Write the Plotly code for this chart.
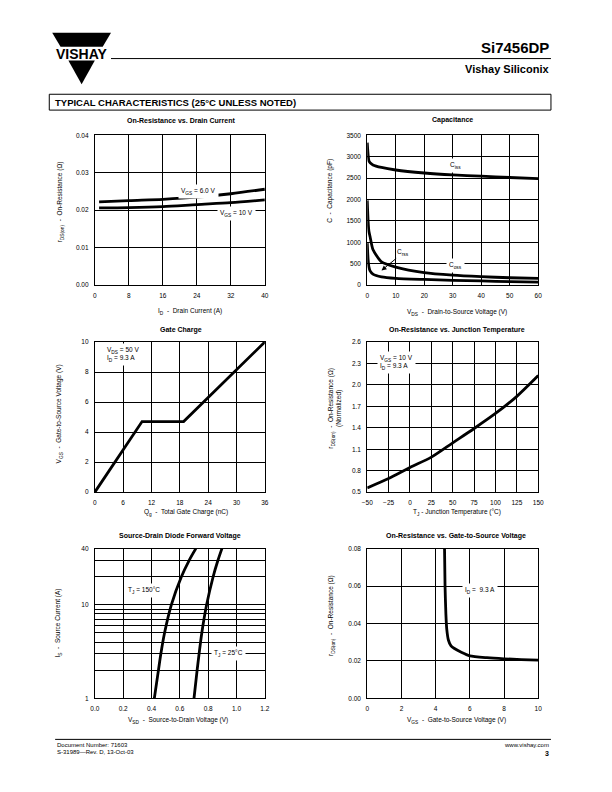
import plotly.graph_objects as go
import numpy as np

PAGE_W, PAGE_H = 612, 792
OFF = 8  # default body margin of the html page
W, H = PAGE_W - 2 * OFF, PAGE_H - 2 * OFF
FONT = "Liberation Sans, Arial, sans-serif"

# ---------------- data ----------------
# On-resistance vs drain current
id_current = [1, 8, 16, 24, 32, 40]
rds_vgs6 = [0.0222, 0.02256, 0.0229, 0.02347, 0.0244, 0.0256]
rds_vgs10 = [0.0206, 0.0207, 0.02096, 0.0215, 0.0220, 0.02275]

# Capacitance
vds = [0, 0.3, 0.6, 1, 2, 5, 10, 20, 30, 40, 50, 60]
ciss = [3330, 3050, 2900, 2860, 2810, 2750, 2690, 2620, 2575, 2545, 2515, 2490]
coss = [1980, 1500, 1250, 1130, 830, 540, 420, 290, 230, 195, 170, 155]
crss = [980, 600, 420, 330, 255, 190, 155, 130, 110, 95, 80, 70]

# Gate charge
qg = [0, 10, 18.8, 36]
vgs_gc = [0, 4.7, 4.7, 10]

# On-resistance vs junction temperature
tj = [-50, -25, 0, 25, 50, 75, 100, 125, 150]
rnorm = [0.56, 0.69, 0.845, 0.99, 1.19, 1.39, 1.60, 1.84, 2.13]

# Source-drain diode forward voltage
is_current = [1, 2, 3, 5, 10, 20, 30, 40]
vsd_150 = [0.42, 0.449, 0.466, 0.492, 0.54, 0.611, 0.666, 0.713]
vsd_25 = [0.70, 0.722, 0.736, 0.755, 0.789, 0.835, 0.869, 0.897]

# On-resistance vs gate-to-source voltage
vgs_sweep = [4.52, 4.55, 4.6, 4.65, 4.75, 4.9, 5.1, 5.5, 6, 7, 8, 9, 10]
rds_vgs = [0.08, 0.06, 0.045, 0.037, 0.031, 0.028, 0.0266, 0.0246, 0.0227, 0.0217, 0.0211, 0.0207, 0.0204]

diode_major = [1, 10, 40]
diode_minor = [2, 3, 4, 5, 6, 7, 8, 9, 20, 30]


def px(x):
    return (x - OFF) / W


def py(y):
    return 1 - (y - OFF) / H


def sub(s, size=4.8):
    return f'<span style="font-size:{size}px;baseline-shift:-1.6px">{s}</span>'


cols = [(90.5, 264), (368.5, 543)]
rows = [(132.5, 283.5), (341, 492.5), (549.5, 700.5)]

fig = go.Figure()

LW = 2.8


def axstyle(**kw):
    d = dict(showline=True, linecolor="black", linewidth=1, mirror=True,
             showgrid=True, gridcolor="black", gridwidth=1, zeroline=False,
             ticks="", ticklabelstandoff=4,
             tickfont=dict(size=6.5, family=FONT, color="black"), fixedrange=True)
    d.update(kw)
    return d


layout = {}
panels = [(0, 0), (0, 1), (1, 0), (1, 1), (2, 0), (2, 1)]
for i, (r, c) in enumerate(panels):
    n = "" if i == 0 else str(i + 1)
    layout["xaxis" + n] = dict(domain=[px(cols[c][0]), px(cols[c][1])], anchor="y" + n)
    layout["yaxis" + n] = dict(domain=[py(rows[r][1]), py(rows[r][0])], anchor="x" + n)

layout["xaxis"].update(axstyle(range=[0, 40], dtick=8))
layout["yaxis"].update(axstyle(range=[0, 0.04], dtick=0.01, tickformat=".2f"))
layout["xaxis2"].update(axstyle(range=[0, 60], dtick=10))
layout["yaxis2"].update(axstyle(range=[0, 3500], dtick=500))
layout["xaxis3"].update(axstyle(range=[0, 36], dtick=6))
layout["yaxis3"].update(axstyle(range=[0, 10], dtick=2))
layout["xaxis4"].update(axstyle(range=[-50, 150], dtick=25, tick0=-50))
layout["yaxis4"].update(axstyle(range=[0.5, 2.6], dtick=0.3, tick0=0.5, tickformat=".1f"))
layout["xaxis5"].update(axstyle(range=[0, 1.2], dtick=0.2, tickformat=".1f"))
layout["yaxis5"].update(axstyle(type="log", range=[0, np.log10(40)],
                                tickmode="array", tickvals=diode_major,
                                minor=dict(tickmode="array", tickvals=diode_minor, showgrid=True,
                                           gridcolor="black", gridwidth=1, ticks="")))
layout["xaxis6"].update(axstyle(range=[0, 10], dtick=2))
layout["yaxis6"].update(axstyle(range=[0, 0.08], dtick=0.02, tickformat=".2f"))


def line(x, y, ax, shape="spline", smoothing=0.8):
    n = "" if ax == 1 else str(ax)
    fig.add_trace(go.Scatter(x=x, y=y, mode="lines", xaxis="x" + n, yaxis="y" + n,
                             line=dict(color="black", width=LW, shape=shape,
                                       smoothing=smoothing if shape == "spline" else None),
                             showlegend=False, hoverinfo="skip"))


line(id_current, rds_vgs6, 1)
line(id_current, rds_vgs10, 1)
line(vds, ciss, 2, smoothing=0.6)
line(vds, coss, 2, smoothing=0.6)
line(vds, crss, 2, smoothing=0.6)
line(qg, vgs_gc, 3, shape="linear")
line(tj, rnorm, 4)
line(vsd_150, is_current, 5)
line(vsd_25, is_current, 5)
line(vgs_sweep, rds_vgs, 6, smoothing=0.6)

ann = []


def ptxt(x, y, s, size=7, bold=False, xanchor="center", angle=0, color="black"):
    if bold:
        s = "<b>" + s + "</b>"
    ann.append(dict(x=px(x), y=py(y), xref="paper", yref="paper", text=s, showarrow=False,
                    xanchor=xanchor, yanchor="middle", textangle=angle,
                    font=dict(size=size, family=FONT, color=color)))


def dtxt(ax, x, y, s, size=6.5, xanchor="center", align="center", bg="white"):
    n = "" if ax == 1 else str(ax)
    ann.append(dict(x=x, y=y, xref="x" + n, yref="y" + n, text=s, showarrow=False,
                    xanchor=xanchor, yanchor="middle", align=align, bgcolor=bg, borderpad=2,
                    font=dict(size=size, family=FONT, color="black")))


# plot titles
ptxt(178, 117, "On-Resistance vs. Drain Current", size=7, bold=True)
ptxt(456, 117, "Capacitance", size=7, bold=True)
ptxt(178, 329, "Gate Charge", size=7, bold=True)
ptxt(460, 329, "On-Resistance vs. Junction Temperature", size=7, bold=True)
ptxt(177, 537, "Source-Drain Diode Forward Voltage", size=7, bold=True)
ptxt(459, 537, "On-Resistance vs. Gate-to-Source Voltage", size=7, bold=True)

# axis titles
ptxt(188, 310, "I" + sub("D") + "  -  Drain Current (A)", size=6.5)
ptxt(55, 200, "r" + sub("DS(on)") + "  -  On-Resistance (Ω)", size=6.5, angle=-90)
ptxt(460, 311, "V" + sub("DS") + "  -  Drain-to-Source Voltage (V)", size=6.5)
ptxt(331, 188, "C  -  Capacitance (pF)", size=6.5, angle=-90)
ptxt(184, 513, "Q" + sub("g") + "  -  Total Gate Charge (nC)", size=6.5)
ptxt(54, 414, "V" + sub("GS") + "  -  Gate-to-Source Voltage (V)", size=6.5, angle=-90)
ptxt(460, 513, "T" + sub("J") + " - Junction Temperature (°C)", size=6.5)
ptxt(336, 408, "r" + sub("DS(on)") + "  -  On-Resistance (Ω)<br>(Normalized)", size=6.5, angle=-90)
ptxt(175, 723, "V" + sub("SD") + "  -  Source-to-Drain Voltage (V)", size=6.5)
ptxt(53, 625, "I" + sub("S") + "  -  Source Current (A)", size=6.5, angle=-90)
ptxt(460, 723, "V" + sub("GS") + "  -  Gate-to-Source Voltage (V)", size=6.5)
ptxt(332, 617, "r" + sub("DS(on)") + "  -  On-Resistance (Ω)", size=6.5, angle=-90)

# in-plot labels
dtxt(1, 24.3, 0.0249, "V" + sub("GS") + " = 6.0 V")
dtxt(1, 33.3, 0.0190, "V" + sub("GS") + " = 10 V")
dtxt(2, 31, 2790, "C" + sub("iss"))
dtxt(2, 31, 446, "C" + sub("oss"))
ann.append(dict(x=5.0, y=340, xref="x2", yref="y2", ax=22, ay=-18, text="C" + sub("rss"),
                showarrow=True, arrowhead=2, arrowsize=1, arrowwidth=1, arrowcolor="black",
                font=dict(size=6.5, family=FONT, color="black")))
dtxt(3, 2.0, 9.15, "V" + sub("DS") + " = 50 V<br>I" + sub("D") + " = 9.3 A", xanchor="left", align="left")
dtxt(4, -39, 2.32, "V" + sub("GS") + " = 10 V<br>I" + sub("D") + " = 9.3 A", xanchor="left", align="left")
dtxt(5, 0.345, np.log10(14.1), "T" + sub("J") + " = 150°C")
dtxt(5, 0.943, np.log10(3.0), "T" + sub("J") + " = 25°C")
dtxt(6, 6.6, 0.0576, "I" + sub("D") + " =  9.3 A")

# header
ptxt(556, 44, "Si7456DP", size=15, bold=True, xanchor="right")
ptxt(556, 66, "Vishay Siliconix", size=11, bold=True, xanchor="right")
ptxt(77, 50, "VISHAY", size=14, bold=True)
ptxt(48, 99, "TYPICAL CHARACTERISTICS (25°C UNLESS NOTED)", size=9.5, bold=True, xanchor="left")

# footer
ptxt(50, 748, "Document Number: 71603", size=6, xanchor="left")
ptxt(50, 755, "S-31989—Rev. D, 13-Oct-03", size=6, xanchor="left")
ptxt(556, 748, "www.vishay.com", size=6, xanchor="right")
ptxt(556, 756, "3", size=7, bold=True, xanchor="right")

shapes = []


def ppath(pts):
    d = "M " + " L ".join(f"{px(x):.5f},{py(y):.5f}" for x, y in pts) + " Z"
    return dict(type="path", path=d, xref="paper", yref="paper",
                fillcolor="black", line=dict(width=0), layer="above")


shapes.append(ppath([(47, 29), (107, 29), (98.5, 43), (55.5, 43)]))
shapes.append(ppath([(63.5, 57), (90.5, 57), (77, 81)]))
shapes.append(dict(type="line", xref="paper", yref="paper", x0=px(107), x1=px(556),
                   y0=py(55), y1=py(55), line=dict(color="black", width=1)))
shapes.append(dict(type="rect", xref="paper", yref="paper", x0=px(44), x1=px(556),
                   y0=py(91), y1=py(107), line=dict(color="black", width=1)))
shapes.append(dict(type="line", xref="paper", yref="paper", x0=px(50), x1=px(556),
                   y0=py(742), y1=py(742), line=dict(color="black", width=1)))

fig.update_layout(**layout)
fig.update_layout(width=W, height=H, margin=dict(l=0, r=0, t=0, b=0),
                  paper_bgcolor="white", plot_bgcolor="white",
                  annotations=ann, shapes=shapes, showlegend=False,
                  font=dict(family=FONT, color="black"))

fig.write_html("out.html")
